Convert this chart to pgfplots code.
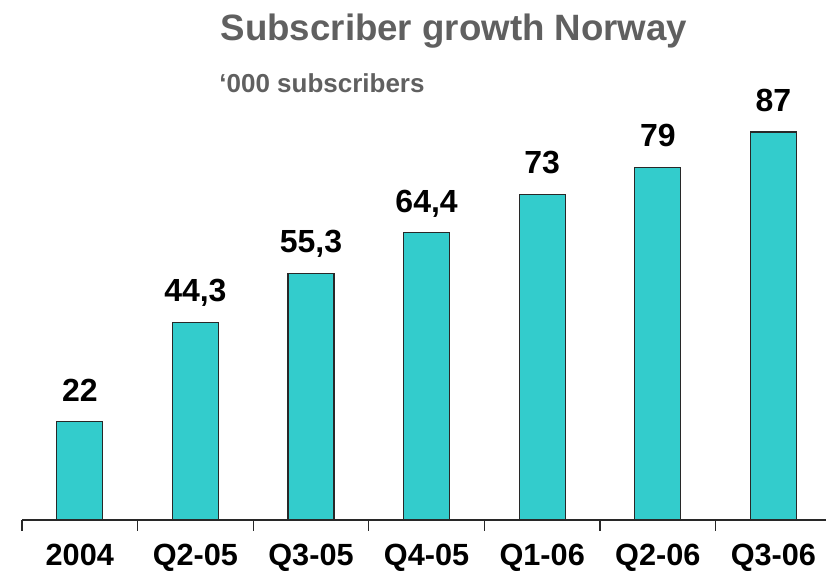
\documentclass[border=0pt]{standalone}
\usepackage{pgfplots}
\pgfplotsset{compat=1.18}
\usepackage{fontspec}
\setmainfont{Liberation Sans}
\definecolor{barteal}{RGB}{51,204,204}
\definecolor{titlegray}{RGB}{96,96,96}
\definecolor{edgegray}{RGB}{40,40,40}

\begin{document}
\begin{tikzpicture}
% page = 826 x 584 px at 0.75pt per px
\path[use as bounding box] (0,0) rectangle (619.5pt,438pt);

\node[anchor=base, text=titlegray, font=\fontsize{27.5}{32}\selectfont\bfseries]
    at (340.5pt,407.5pt) {Subscriber growth Norway};
\node[anchor=base west, text=titlegray, font=\fontsize{19.5}{23}\selectfont\bfseries]
    at (161pt,368.5pt) {‘000 subscribers};

\begin{axis}[
    at={(16.5pt,48pt)}, anchor=south west,
    x=86.7pt, y=3.345pt,
    xmin=-0.5, xmax=6.455,
    ymin=0, ymax=110,
    axis x line*=bottom,
    axis y line=none,
    x axis line style={-, line width=1.1pt, color=edgegray},
    xtick={0,...,6},
    xticklabels={2004, Q2-05, Q3-05, Q4-05, Q1-06, Q2-06, Q3-06},
    major tick length=0pt,
    minor xtick={-0.5,0.5,1.5,2.5,3.5,4.5,5.5},
    minor tick length=8pt,
    tick align=outside,
    minor tick style={line width=1pt, color=edgegray},
    xticklabel style={anchor=base, yshift=-34pt,
        font=\fontsize{23}{27}\selectfont\bfseries},
    ybar, bar width=34.5pt,
    clip=false,
    nodes near coords,
    nodes near coords style={anchor=base, yshift=15.5pt,
        font=\fontsize{24}{28}\selectfont\bfseries},
    /pgf/number format/.cd, use comma, 1000 sep={}, assume math mode=true,
]
\addplot[fill=barteal, draw=edgegray, line width=0.9pt] coordinates {
    (0,22) (1,44.3) (2,55.3) (3,64.4) (4,73) (5,79) (6,87)
};
\end{axis}
\end{tikzpicture}
\end{document}
